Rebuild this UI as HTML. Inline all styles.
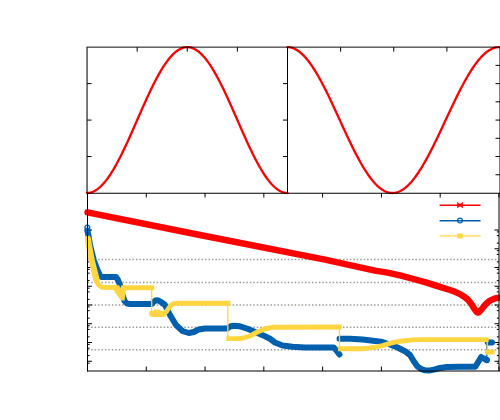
<!DOCTYPE html><html><head><meta charset="utf-8"><style>html,body{margin:0;padding:0;background:#fff;font-family:"Liberation Sans",sans-serif}</style></head><body><svg width="500" height="420" viewBox="0 0 500 420" style="display:block">
<rect width="500" height="420" fill="#fff"/>
<line x1="137.16" y1="47.14" x2="137.16" y2="51.64" stroke="#000" stroke-width="1" />
<line x1="87.05" y1="83.61" x2="91.55" y2="83.61" stroke="#000" stroke-width="1" />
<line x1="287.50" y1="83.61" x2="283.00" y2="83.61" stroke="#000" stroke-width="1" />
<line x1="187.27" y1="47.14" x2="187.27" y2="51.64" stroke="#000" stroke-width="1" />
<line x1="87.05" y1="120.07" x2="91.55" y2="120.07" stroke="#000" stroke-width="1" />
<line x1="287.50" y1="120.07" x2="283.00" y2="120.07" stroke="#000" stroke-width="1" />
<line x1="237.39" y1="47.14" x2="237.39" y2="51.64" stroke="#000" stroke-width="1" />
<line x1="87.05" y1="156.54" x2="91.55" y2="156.54" stroke="#000" stroke-width="1" />
<line x1="287.50" y1="156.54" x2="283.00" y2="156.54" stroke="#000" stroke-width="1" />
<line x1="340.62" y1="47.14" x2="340.62" y2="51.64" stroke="#000" stroke-width="1" />
<line x1="393.75" y1="47.14" x2="393.75" y2="51.64" stroke="#000" stroke-width="1" />
<line x1="446.88" y1="47.14" x2="446.88" y2="51.64" stroke="#000" stroke-width="1" />
<line x1="500.00" y1="65.37" x2="495.50" y2="65.37" stroke="#000" stroke-width="1" />
<line x1="500.00" y1="83.61" x2="495.50" y2="83.61" stroke="#000" stroke-width="1" />
<line x1="500.00" y1="101.84" x2="495.50" y2="101.84" stroke="#000" stroke-width="1" />
<line x1="500.00" y1="120.07" x2="495.50" y2="120.07" stroke="#000" stroke-width="1" />
<line x1="500.00" y1="138.30" x2="495.50" y2="138.30" stroke="#000" stroke-width="1" />
<line x1="500.00" y1="156.54" x2="495.50" y2="156.54" stroke="#000" stroke-width="1" />
<line x1="500.00" y1="174.77" x2="495.50" y2="174.77" stroke="#000" stroke-width="1" />
<path d="M87.05,193.00 L88.05,192.96 L89.05,192.86 L90.06,192.68 L91.06,192.42 L92.06,192.10 L93.06,191.71 L94.07,191.24 L95.07,190.71 L96.07,190.10 L97.07,189.43 L98.07,188.69 L99.08,187.88 L100.08,187.00 L101.08,186.06 L102.08,185.05 L103.09,183.98 L104.09,182.84 L105.09,181.65 L106.09,180.39 L107.09,179.07 L108.10,177.70 L109.10,176.26 L110.10,174.78 L111.10,173.23 L112.11,171.64 L113.11,169.99 L114.11,168.30 L115.11,166.56 L116.12,164.77 L117.12,162.94 L118.12,161.06 L119.12,159.15 L120.12,157.19 L121.13,155.20 L122.13,153.18 L123.13,151.12 L124.13,149.03 L125.14,146.92 L126.14,144.77 L127.14,142.61 L128.14,140.42 L129.14,138.21 L130.15,135.98 L131.15,133.74 L132.15,131.48 L133.15,129.21 L134.16,126.93 L135.16,124.65 L136.16,122.36 L137.16,120.07 L138.16,117.78 L139.17,115.49 L140.17,113.21 L141.17,110.93 L142.17,108.66 L143.18,106.40 L144.18,104.16 L145.18,101.93 L146.18,99.72 L147.19,97.53 L148.19,95.37 L149.19,93.22 L150.19,91.11 L151.19,89.02 L152.20,86.96 L153.20,84.94 L154.20,82.95 L155.20,80.99 L156.21,79.08 L157.21,77.20 L158.21,75.37 L159.21,73.58 L160.21,71.84 L161.22,70.15 L162.22,68.50 L163.22,66.91 L164.22,65.36 L165.23,63.88 L166.23,62.44 L167.23,61.07 L168.23,59.75 L169.23,58.49 L170.24,57.30 L171.24,56.16 L172.24,55.09 L173.24,54.08 L174.25,53.14 L175.25,52.26 L176.25,51.45 L177.25,50.71 L178.25,50.04 L179.26,49.43 L180.26,48.90 L181.26,48.43 L182.26,48.04 L183.27,47.72 L184.27,47.46 L185.27,47.28 L186.27,47.18 L187.27,47.14 L188.28,47.18 L189.28,47.28 L190.28,47.46 L191.28,47.72 L192.29,48.04 L193.29,48.43 L194.29,48.90 L195.29,49.43 L196.30,50.04 L197.30,50.71 L198.30,51.45 L199.30,52.26 L200.30,53.14 L201.31,54.08 L202.31,55.09 L203.31,56.16 L204.31,57.30 L205.32,58.49 L206.32,59.75 L207.32,61.07 L208.32,62.44 L209.32,63.88 L210.33,65.36 L211.33,66.91 L212.33,68.50 L213.33,70.15 L214.34,71.84 L215.34,73.58 L216.34,75.37 L217.34,77.20 L218.34,79.08 L219.35,80.99 L220.35,82.95 L221.35,84.94 L222.35,86.96 L223.36,89.02 L224.36,91.11 L225.36,93.22 L226.36,95.37 L227.36,97.53 L228.37,99.72 L229.37,101.93 L230.37,104.16 L231.37,106.40 L232.38,108.66 L233.38,110.93 L234.38,113.21 L235.38,115.49 L236.39,117.78 L237.39,120.07 L238.39,122.36 L239.39,124.65 L240.39,126.93 L241.40,129.21 L242.40,131.48 L243.40,133.74 L244.40,135.98 L245.41,138.21 L246.41,140.42 L247.41,142.61 L248.41,144.77 L249.41,146.92 L250.42,149.03 L251.42,151.12 L252.42,153.18 L253.42,155.20 L254.43,157.19 L255.43,159.15 L256.43,161.06 L257.43,162.94 L258.43,164.77 L259.44,166.56 L260.44,168.30 L261.44,169.99 L262.44,171.64 L263.45,173.23 L264.45,174.78 L265.45,176.26 L266.45,177.70 L267.45,179.07 L268.46,180.39 L269.46,181.65 L270.46,182.84 L271.46,183.98 L272.47,185.05 L273.47,186.06 L274.47,187.00 L275.47,187.88 L276.48,188.69 L277.48,189.43 L278.48,190.10 L279.48,190.71 L280.48,191.24 L281.49,191.71 L282.49,192.10 L283.49,192.42 L284.49,192.68 L285.50,192.86 L286.50,192.96 L287.50,193.00" fill="none" stroke="#ff0000" stroke-width="2.3" stroke-linejoin="round" stroke-linecap="round"/>
<path d="M287.50,47.14 L288.54,47.18 L289.59,47.28 L290.63,47.46 L291.68,47.72 L292.72,48.04 L293.77,48.43 L294.81,48.90 L295.86,49.43 L296.90,50.04 L297.94,50.71 L298.99,51.45 L300.03,52.26 L301.08,53.14 L302.12,54.08 L303.17,55.09 L304.21,56.16 L305.26,57.30 L306.30,58.49 L307.35,59.75 L308.39,61.07 L309.44,62.44 L310.48,63.88 L311.53,65.36 L312.57,66.91 L313.62,68.50 L314.66,70.15 L315.71,71.84 L316.75,73.58 L317.80,75.37 L318.85,77.20 L319.89,79.08 L320.94,80.99 L321.98,82.95 L323.03,84.94 L324.08,86.96 L325.12,89.02 L326.17,91.11 L327.22,93.22 L328.26,95.37 L329.31,97.53 L330.36,99.72 L331.41,101.93 L332.45,104.16 L333.50,106.40 L334.55,108.66 L335.60,110.93 L336.64,113.21 L337.69,115.49 L338.74,117.78 L339.79,120.07 L340.84,122.36 L341.89,124.65 L342.93,126.93 L343.98,129.21 L345.03,131.48 L346.08,133.74 L347.13,135.98 L348.18,138.21 L349.23,140.42 L350.28,142.61 L351.33,144.77 L352.38,146.92 L353.43,149.03 L354.48,151.12 L355.54,153.18 L356.59,155.20 L357.64,157.19 L358.69,159.15 L359.74,161.06 L360.79,162.94 L361.85,164.77 L362.90,166.56 L363.95,168.30 L365.00,169.99 L366.06,171.64 L367.11,173.23 L368.16,174.78 L369.22,176.26 L370.27,177.70 L371.32,179.07 L372.38,180.39 L373.43,181.65 L374.49,182.84 L375.54,183.98 L376.60,185.05 L377.65,186.06 L378.71,187.00 L379.76,187.88 L380.82,188.69 L381.88,189.43 L382.93,190.10 L383.99,190.71 L385.05,191.24 L386.10,191.71 L387.16,192.10 L388.22,192.42 L389.28,192.68 L390.33,192.86 L391.39,192.96 L392.45,193.00 L393.51,192.96 L394.57,192.86 L395.63,192.68 L396.69,192.42 L397.75,192.10 L398.80,191.71 L399.86,191.24 L400.93,190.71 L401.99,190.10 L403.05,189.43 L404.11,188.69 L405.17,187.88 L406.23,187.00 L407.29,186.06 L408.35,185.05 L409.41,183.98 L410.48,182.84 L411.54,181.65 L412.60,180.39 L413.66,179.07 L414.73,177.70 L415.79,176.26 L416.85,174.78 L417.92,173.23 L418.98,171.64 L420.05,169.99 L421.11,168.30 L422.17,166.56 L423.24,164.77 L424.30,162.94 L425.37,161.06 L426.43,159.15 L427.50,157.19 L428.56,155.20 L429.63,153.18 L430.70,151.12 L431.76,149.03 L432.83,146.92 L433.90,144.77 L434.96,142.61 L436.03,140.42 L437.10,138.21 L438.16,135.98 L439.23,133.74 L440.30,131.48 L441.37,129.21 L442.43,126.93 L443.50,124.65 L444.57,122.36 L445.64,120.07 L446.71,117.78 L447.78,115.49 L448.84,113.21 L449.91,110.93 L450.98,108.66 L452.05,106.40 L453.12,104.16 L454.19,101.93 L455.26,99.72 L456.33,97.53 L457.40,95.37 L458.47,93.22 L459.54,91.11 L460.61,89.02 L461.68,86.96 L462.75,84.94 L463.82,82.95 L464.89,80.99 L465.97,79.08 L467.04,77.20 L468.11,75.37 L469.18,73.58 L470.25,71.84 L471.32,70.15 L472.39,68.50 L473.46,66.91 L474.54,65.36 L475.61,63.88 L476.68,62.44 L477.75,61.07 L478.82,59.75 L479.90,58.49 L480.97,57.30 L482.04,56.16 L483.11,55.09 L484.18,54.08 L485.26,53.14 L486.33,52.26 L487.40,51.45 L488.47,50.71 L489.55,50.04 L490.62,49.43 L491.69,48.90 L492.76,48.43 L493.84,48.04 L494.91,47.72 L495.98,47.46 L497.05,47.28 L498.13,47.18 L499.20,47.14" fill="none" stroke="#ff0000" stroke-width="2.3" stroke-linejoin="round" stroke-linecap="round"/>
<line x1="86.55" y1="47.14" x2="501.00" y2="47.14" stroke="#000" stroke-width="0.95" />
<line x1="87.05" y1="47.14" x2="87.05" y2="193.00" stroke="#000" stroke-width="1.05" />
<line x1="287.50" y1="47.14" x2="287.50" y2="193.00" stroke="#000" stroke-width="1" />
<line x1="87.70" y1="259.60" x2="499.00" y2="259.60" stroke="#9c9c94" stroke-width="1.5" stroke-dasharray="1.5 1.95"/>
<line x1="87.70" y1="282.40" x2="499.00" y2="282.40" stroke="#9c9c94" stroke-width="1.5" stroke-dasharray="1.5 1.95"/>
<line x1="87.70" y1="304.90" x2="499.00" y2="304.90" stroke="#9c9c94" stroke-width="1.5" stroke-dasharray="1.5 1.95"/>
<line x1="87.70" y1="327.30" x2="499.00" y2="327.30" stroke="#9c9c94" stroke-width="1.5" stroke-dasharray="1.5 1.95"/>
<line x1="87.70" y1="349.70" x2="499.00" y2="349.70" stroke="#9c9c94" stroke-width="1.5" stroke-dasharray="1.5 1.95"/>
<line x1="87.50" y1="193.00" x2="87.50" y2="197.50" stroke="#000" stroke-width="1" />
<line x1="146.28" y1="371.00" x2="146.28" y2="366.50" stroke="#000" stroke-width="1" />
<line x1="146.28" y1="193.00" x2="146.28" y2="197.50" stroke="#000" stroke-width="1" />
<line x1="205.06" y1="371.00" x2="205.06" y2="366.50" stroke="#000" stroke-width="1" />
<line x1="205.06" y1="193.00" x2="205.06" y2="197.50" stroke="#000" stroke-width="1" />
<line x1="263.84" y1="371.00" x2="263.84" y2="366.50" stroke="#000" stroke-width="1" />
<line x1="263.84" y1="193.00" x2="263.84" y2="197.50" stroke="#000" stroke-width="1" />
<line x1="322.62" y1="371.00" x2="322.62" y2="366.50" stroke="#000" stroke-width="1" />
<line x1="322.62" y1="193.00" x2="322.62" y2="197.50" stroke="#000" stroke-width="1" />
<line x1="381.40" y1="371.00" x2="381.40" y2="366.50" stroke="#000" stroke-width="1" />
<line x1="381.40" y1="193.00" x2="381.40" y2="197.50" stroke="#000" stroke-width="1" />
<line x1="440.18" y1="371.00" x2="440.18" y2="366.50" stroke="#000" stroke-width="1" />
<line x1="440.18" y1="193.00" x2="440.18" y2="197.50" stroke="#000" stroke-width="1" />
<line x1="498.96" y1="371.00" x2="498.96" y2="366.50" stroke="#000" stroke-width="1" />
<line x1="498.96" y1="193.00" x2="498.96" y2="197.50" stroke="#000" stroke-width="1" />
<line x1="87.50" y1="230.00" x2="92.00" y2="230.00" stroke="#000" stroke-width="1" />
<line x1="87.50" y1="231.90" x2="89.70" y2="231.90" stroke="#000" stroke-width="1" />
<line x1="499.00" y1="230.00" x2="494.50" y2="230.00" stroke="#000" stroke-width="1" />
<line x1="499.00" y1="231.90" x2="496.80" y2="231.90" stroke="#000" stroke-width="1" />
<line x1="87.50" y1="248.75" x2="92.00" y2="248.75" stroke="#000" stroke-width="1" />
<line x1="87.50" y1="250.65" x2="89.70" y2="250.65" stroke="#000" stroke-width="1" />
<line x1="87.50" y1="243.11" x2="89.70" y2="243.11" stroke="#000" stroke-width="1" />
<line x1="87.50" y1="235.65" x2="89.70" y2="235.65" stroke="#000" stroke-width="1" />
<line x1="499.00" y1="248.75" x2="494.50" y2="248.75" stroke="#000" stroke-width="1" />
<line x1="499.00" y1="250.65" x2="496.80" y2="250.65" stroke="#000" stroke-width="1" />
<line x1="499.00" y1="243.11" x2="496.80" y2="243.11" stroke="#000" stroke-width="1" />
<line x1="499.00" y1="235.65" x2="496.80" y2="235.65" stroke="#000" stroke-width="1" />
<line x1="87.50" y1="267.50" x2="92.00" y2="267.50" stroke="#000" stroke-width="1" />
<line x1="87.50" y1="269.40" x2="89.70" y2="269.40" stroke="#000" stroke-width="1" />
<line x1="87.50" y1="261.86" x2="89.70" y2="261.86" stroke="#000" stroke-width="1" />
<line x1="87.50" y1="254.40" x2="89.70" y2="254.40" stroke="#000" stroke-width="1" />
<line x1="499.00" y1="267.50" x2="494.50" y2="267.50" stroke="#000" stroke-width="1" />
<line x1="499.00" y1="269.40" x2="496.80" y2="269.40" stroke="#000" stroke-width="1" />
<line x1="499.00" y1="261.86" x2="496.80" y2="261.86" stroke="#000" stroke-width="1" />
<line x1="499.00" y1="254.40" x2="496.80" y2="254.40" stroke="#000" stroke-width="1" />
<line x1="87.50" y1="286.25" x2="92.00" y2="286.25" stroke="#000" stroke-width="1" />
<line x1="87.50" y1="288.15" x2="89.70" y2="288.15" stroke="#000" stroke-width="1" />
<line x1="87.50" y1="280.61" x2="89.70" y2="280.61" stroke="#000" stroke-width="1" />
<line x1="87.50" y1="273.15" x2="89.70" y2="273.15" stroke="#000" stroke-width="1" />
<line x1="499.00" y1="286.25" x2="494.50" y2="286.25" stroke="#000" stroke-width="1" />
<line x1="499.00" y1="288.15" x2="496.80" y2="288.15" stroke="#000" stroke-width="1" />
<line x1="499.00" y1="280.61" x2="496.80" y2="280.61" stroke="#000" stroke-width="1" />
<line x1="499.00" y1="273.15" x2="496.80" y2="273.15" stroke="#000" stroke-width="1" />
<line x1="87.50" y1="305.00" x2="92.00" y2="305.00" stroke="#000" stroke-width="1" />
<line x1="87.50" y1="306.90" x2="89.70" y2="306.90" stroke="#000" stroke-width="1" />
<line x1="87.50" y1="299.36" x2="89.70" y2="299.36" stroke="#000" stroke-width="1" />
<line x1="87.50" y1="291.90" x2="89.70" y2="291.90" stroke="#000" stroke-width="1" />
<line x1="499.00" y1="305.00" x2="494.50" y2="305.00" stroke="#000" stroke-width="1" />
<line x1="499.00" y1="306.90" x2="496.80" y2="306.90" stroke="#000" stroke-width="1" />
<line x1="499.00" y1="299.36" x2="496.80" y2="299.36" stroke="#000" stroke-width="1" />
<line x1="499.00" y1="291.90" x2="496.80" y2="291.90" stroke="#000" stroke-width="1" />
<line x1="87.50" y1="323.75" x2="92.00" y2="323.75" stroke="#000" stroke-width="1" />
<line x1="87.50" y1="325.65" x2="89.70" y2="325.65" stroke="#000" stroke-width="1" />
<line x1="87.50" y1="318.11" x2="89.70" y2="318.11" stroke="#000" stroke-width="1" />
<line x1="87.50" y1="310.65" x2="89.70" y2="310.65" stroke="#000" stroke-width="1" />
<line x1="499.00" y1="323.75" x2="494.50" y2="323.75" stroke="#000" stroke-width="1" />
<line x1="499.00" y1="325.65" x2="496.80" y2="325.65" stroke="#000" stroke-width="1" />
<line x1="499.00" y1="318.11" x2="496.80" y2="318.11" stroke="#000" stroke-width="1" />
<line x1="499.00" y1="310.65" x2="496.80" y2="310.65" stroke="#000" stroke-width="1" />
<line x1="87.50" y1="342.50" x2="92.00" y2="342.50" stroke="#000" stroke-width="1" />
<line x1="87.50" y1="344.40" x2="89.70" y2="344.40" stroke="#000" stroke-width="1" />
<line x1="87.50" y1="336.86" x2="89.70" y2="336.86" stroke="#000" stroke-width="1" />
<line x1="87.50" y1="329.40" x2="89.70" y2="329.40" stroke="#000" stroke-width="1" />
<line x1="499.00" y1="342.50" x2="494.50" y2="342.50" stroke="#000" stroke-width="1" />
<line x1="499.00" y1="344.40" x2="496.80" y2="344.40" stroke="#000" stroke-width="1" />
<line x1="499.00" y1="336.86" x2="496.80" y2="336.86" stroke="#000" stroke-width="1" />
<line x1="499.00" y1="329.40" x2="496.80" y2="329.40" stroke="#000" stroke-width="1" />
<line x1="87.50" y1="361.25" x2="92.00" y2="361.25" stroke="#000" stroke-width="1" />
<line x1="87.50" y1="363.15" x2="89.70" y2="363.15" stroke="#000" stroke-width="1" />
<line x1="87.50" y1="355.61" x2="89.70" y2="355.61" stroke="#000" stroke-width="1" />
<line x1="87.50" y1="348.15" x2="89.70" y2="348.15" stroke="#000" stroke-width="1" />
<line x1="499.00" y1="361.25" x2="494.50" y2="361.25" stroke="#000" stroke-width="1" />
<line x1="499.00" y1="363.15" x2="496.80" y2="363.15" stroke="#000" stroke-width="1" />
<line x1="499.00" y1="355.61" x2="496.80" y2="355.61" stroke="#000" stroke-width="1" />
<line x1="499.00" y1="348.15" x2="496.80" y2="348.15" stroke="#000" stroke-width="1" />
<path d="M87.50,212.30 L200.00,235.00 L325.00,259.60 L375.00,270.60 L387.50,272.60 L400.00,275.40 L412.50,278.75 L425.00,282.10 L437.50,286.10 L450.00,290.00 L455.00,291.80 L460.00,294.10 L465.00,297.30 L468.00,299.80 L470.00,302.20 L472.00,305.00 L474.00,308.20 L475.70,310.70 L477.20,312.50 L478.80,312.50 L480.30,310.70 L482.00,308.80 L485.00,305.00 L487.50,302.50 L490.00,300.60 L495.00,298.40 L501.00,297.30" fill="none" stroke="#ff0000" stroke-width="6.4" stroke-linejoin="round" stroke-linecap="round"/>
<path d="M85.2,210 L89.8,214.6 M85.2,214.6 L89.8,210" stroke="#ff0000" stroke-width="1.2" fill="none"/>
<path d="M87.50,231.00 L88.50,236.00 L90.00,245.00 L93.75,260.00 L97.50,270.00 L100.00,275.50 L101.50,277.00 L116.00,277.00 L118.00,280.00 L120.00,285.00 L122.50,295.00 L124.50,301.00 L127.00,303.50 L130.00,304.00 L152.00,304.00 L154.00,301.50 L156.00,300.20 L158.50,300.50 L161.00,302.00 L165.00,305.00 L170.00,315.00 L176.00,325.00 L182.50,331.00 L188.75,333.00 L193.75,332.00 L198.75,329.50 L205.00,328.50 L227.50,328.50 L230.00,326.50 L233.75,325.75 L240.00,326.30 L247.50,328.75 L257.50,333.00 L265.00,336.25 L270.00,338.75 L275.00,342.50 L282.50,345.50 L292.50,346.75 L305.00,347.50 L333.75,347.50 L336.00,350.00 L339.50,354.50" fill="none" stroke="#0060ad" stroke-width="6" stroke-linejoin="round" stroke-linecap="round"/>
<circle cx="87.3" cy="227.5" r="2.4" fill="none" stroke="#0060ad" stroke-width="1.3"/>
<circle cx="87.6" cy="230.5" r="2.4" fill="none" stroke="#0060ad" stroke-width="1.3"/>
<path d="M339.50,338.75 L350.00,338.75 L362.50,339.50 L375.00,340.90 L382.50,342.00 L390.00,344.50 L397.50,347.50 L405.00,351.25 L410.00,355.00 L413.75,361.25 L417.50,366.50 L421.25,369.00 L425.00,370.30 L429.00,370.60 L435.00,369.40 L440.00,367.90 L447.00,367.00 L460.00,366.70 L475.30,366.80 L478.50,361.50 L481.20,357.00 L484.00,358.60 L486.80,360.20" fill="none" stroke="#0060ad" stroke-width="6" stroke-linejoin="round" stroke-linecap="round"/>
<circle cx="486.8" cy="360.1" r="3" fill="#0060ad"/>
<line x1="486.80" y1="360.00" x2="486.80" y2="343.00" stroke="#0060ad" stroke-width="1.3" />
<path d="M487.80,342.60 L492.00,342.60" fill="none" stroke="#0060ad" stroke-width="6" stroke-linejoin="round" stroke-linecap="round"/>
<path d="M87.60,238.30 L90.00,252.50 L93.75,270.00 L96.00,280.00 L98.00,284.00 L100.00,286.00 L102.00,287.30 L115.60,287.50 L117.50,291.00 L119.00,293.00 L121.50,297.30 L122.50,296.00 L123.50,290.00 L125.00,287.80 L151.80,287.80" fill="none" stroke="#ffd540" stroke-width="4.9" stroke-linejoin="round" stroke-linecap="square"/>
<line x1="151.70" y1="287.80" x2="151.70" y2="313.40" stroke="#ffd540" stroke-width="1.3" />
<path d="M151.80,313.40 L154.00,313.60 L155.50,311.80 L157.00,313.80 L158.30,311.80 L160.00,313.60 L162.00,313.80 L164.50,313.20 L166.50,311.50 L168.80,308.00 L171.00,305.30 L174.00,303.60 L178.00,303.10 L227.90,303.30" fill="none" stroke="#ffd540" stroke-width="4.9" stroke-linejoin="round" stroke-linecap="square"/>
<line x1="227.80" y1="303.30" x2="227.80" y2="338.60" stroke="#ffd540" stroke-width="1.3" />
<path d="M228.80,338.60 L236.00,338.60 L242.50,338.20 L250.00,336.00 L257.50,332.00 L265.00,328.75 L272.50,327.30 L339.20,327.00" fill="none" stroke="#ffd540" stroke-width="4.9" stroke-linejoin="round" stroke-linecap="square"/>
<line x1="339.50" y1="327.00" x2="339.50" y2="348.80" stroke="#ffd540" stroke-width="1.3" />
<path d="M340.40,348.80 L362.50,348.70 L370.00,347.90 L375.00,347.10 L382.50,345.70 L390.00,343.40 L395.00,342.20 L400.00,341.20 L412.50,339.90 L425.00,339.60 L486.20,339.60" fill="none" stroke="#ffd540" stroke-width="4.9" stroke-linejoin="round" stroke-linecap="square"/>
<line x1="487.20" y1="339.60" x2="487.20" y2="352.10" stroke="#ffd540" stroke-width="1.3" />
<path d="M487.40,352.10 L492.20,352.10" fill="none" stroke="#ffd540" stroke-width="4.9" stroke-linejoin="round" stroke-linecap="square"/>
<path d="M114.5,285.3 L119.2,285.3 L120.2,288 L121.6,285.3 L125.6,285.3 L125.6,290.5 L124.6,300.4 L121.6,300.4 L114.5,292 Z" fill="#ffd540"/>
<path d="M152.50,313.90 L163.50,313.90" fill="none" stroke="#ffd540" stroke-width="6.0" stroke-linejoin="round" stroke-linecap="round"/>
<path d="M88.00,239.00 L88.60,243.50 L91.80,260.70 L94.60,272.00 L96.60,280.00" fill="none" stroke="#ffd540" stroke-width="6.2" stroke-linejoin="round" stroke-linecap="round"/>
<line x1="439.60" y1="205.20" x2="480.60" y2="205.20" stroke="#ff0000" stroke-width="1.4" />
<line x1="439.60" y1="220.70" x2="480.60" y2="220.70" stroke="#0060ad" stroke-width="1.4" />
<line x1="439.60" y1="235.90" x2="480.60" y2="235.90" stroke="#ffd540" stroke-width="1.4" />
<path d="M457.4,202.4 L460,204.3 L462.6,202.4 L462.6,207.8 L460,205.9 L457.4,207.8 Z" fill="#ff0000" stroke="#ff0000" stroke-width="0.6"/>
<circle cx="460" cy="220.6" r="2.4" fill="none" stroke="#0060ad" stroke-width="1.2"/>
<rect x="457.4" y="233.4" width="5.2" height="5" fill="#ffd540"/>
<line x1="87.00" y1="193.20" x2="501.00" y2="193.20" stroke="#000" stroke-width="1.15" />
<line x1="87.50" y1="193.00" x2="87.50" y2="371.50" stroke="#000" stroke-width="1" />
<line x1="87.00" y1="371.00" x2="501.00" y2="371.00" stroke="#000" stroke-width="1" />
<line x1="500.00" y1="47.14" x2="500.00" y2="193.00" stroke="#000" stroke-width="1" />
<line x1="499.00" y1="193.00" x2="499.00" y2="371.00" stroke="#000" stroke-width="1" />
</svg></body></html>
